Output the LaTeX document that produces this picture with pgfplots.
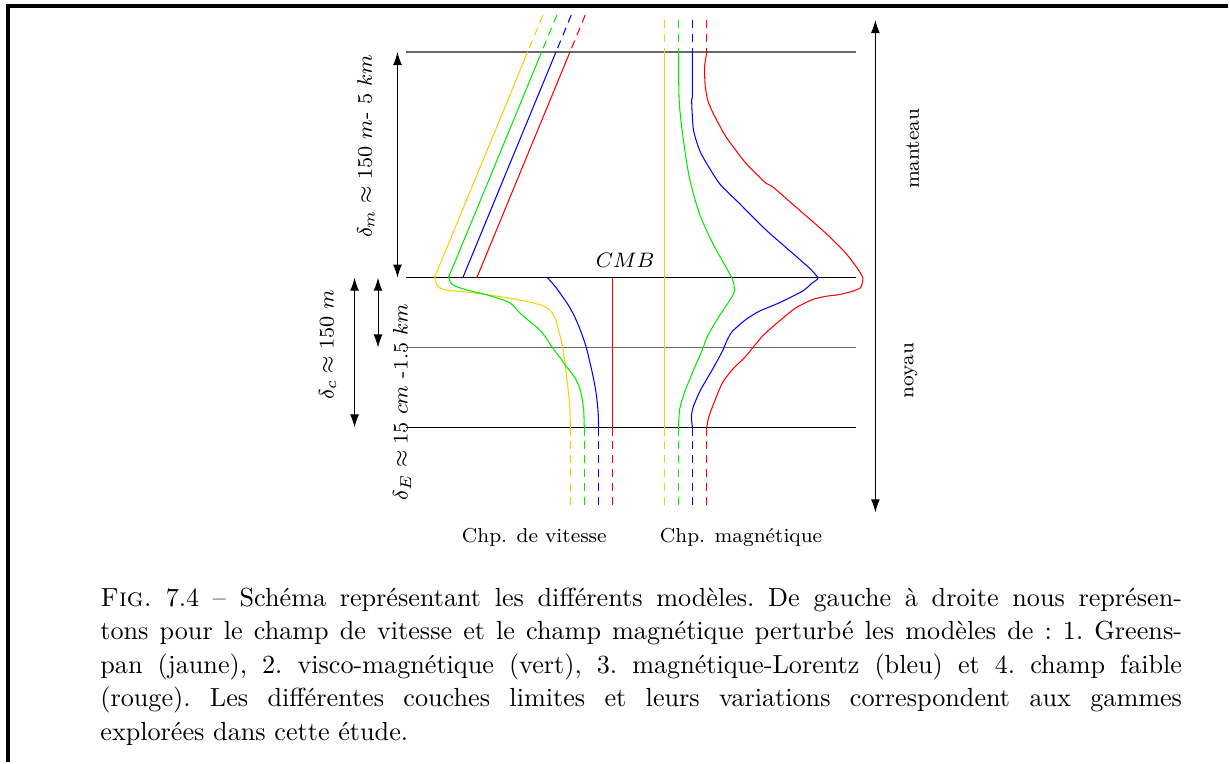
\documentclass[border=0pt]{standalone}
\usepackage{pgfplots}
\pgfplotsset{compat=1.18}
\usetikzlibrary{arrows.meta}

\definecolor{jaune}{RGB}{255,204,0}
\definecolor{vert}{RGB}{0,235,0}
\definecolor{bleu}{RGB}{0,0,255}
\definecolor{rouge}{RGB}{255,0,0}
\definecolor{grisligne}{RGB}{105,105,105}

\tikzset{
  tir/.style={dash pattern=on 3.1pt off 2.2pt},
  fl/.style={{Latex[length=5pt,width=3.4pt]}-{Latex[length=5pt,width=3.4pt]}},
  lab/.style={font=\fontsize{7.7}{9}\selectfont, inner sep=0pt},
  mlab/.style={font=\fontsize{7.9}{9.5}\selectfont, inner sep=0pt},
  legende/.style={anchor=base west, inner sep=0pt, font=\fontsize{10}{12}\selectfont\frenchspacing},
}
\newcommand{\capline}[1]{\makebox[413.4pt][s]{#1}}

\begin{document}
\begin{tikzpicture}
\begin{axis}[
  width=469.5pt, height=291.24pt, scale only axis,
  xmin=0, xmax=1230, ymin=0, ymax=763, y dir=reverse,
  hide axis, clip=false,
  every axis plot/.append style={line width=0.4pt},
]
\path (axis cs:0,0) rectangle (axis cs:1230,763);

% cadre
\addplot[black, line width=1.2pt] coordinates {(8,763) (8,6) (1230,6)};

% couches limites
\addplot[grisligne, line width=0.5pt] coordinates {(407,52) (857,52)};
\addplot[black, line width=0.5pt] coordinates {(407,278) (857,278)};
\addplot[grisligne, line width=0.5pt] coordinates {(407,348) (857,348)};
\addplot[black, line width=0.5pt] coordinates {(407,428) (857,428)};

% fleches
\addplot[black, fl] coordinates {(398,52) (398,278)};
\addplot[black, fl] coordinates {(355,278) (355,428)};
\addplot[black, fl] coordinates {(378.5,278) (378.5,348)};
\addplot[black, fl] coordinates {(876.5,20) (876.5,513)};

% ---- champ de vitesse ----
\addplot[jaune, tir] coordinates {(543.6,15) (528.3,52)};
\addplot[vert, tir] coordinates {(557.6,15) (542.3,52)};
\addplot[bleu, tir] coordinates {(572,15) (556.7,52)};
\addplot[rouge, tir] coordinates {(586,15) (570.7,52)};

\addplot[jaune, smooth, tension=0.45] coordinates {
(528.3,52) (483,162) (438.3,270) (435.6,276) (435.8,281) (437.8,286)
(442,289) (450,291) (473,293) (506.7,298) (533,303) (545,307) (552,312)
(556.5,320) (559.5,332) (562.5,343) (565.5,362) (568,383) (570,400)
(570.8,412) (571,428)};
\addplot[vert, smooth, tension=0.45] coordinates {
(542.3,52) (497,162) (452.3,270) (449.6,276) (449.8,280) (452,284)
(457,287) (470,291) (486.7,295) (503,300) (510,303) (515,307) (520,313)
(527,319) (540,330) (548,340) (553,348) (560,357) (566.7,366.7) (572,373)
(576.7,380) (580.5,389) (583,400) (584.5,412) (585,428)};
\addplot[bleu] coordinates {(556.7,52) (463.3,278.3)};
\addplot[rouge] coordinates {(570.7,52) (477.3,278.3)};
\addplot[bleu, smooth, tension=0.45] coordinates {
(548.3,278.3) (556,287) (563,296.7) (570,307) (576.7,320) (582,333)
(586.7,346.7) (590,360) (593,373) (595.8,387) (597.7,400) (599,415)
(599.3,428)};
\addplot[rouge] coordinates {(613.3,278.3) (613.3,428)};

\addplot[jaune, tir] coordinates {(571,428) (571,510)};
\addplot[vert, tir] coordinates {(585,428) (585,510)};
\addplot[bleu, tir] coordinates {(599.3,428) (599.3,510)};
\addplot[rouge, tir] coordinates {(613.3,428) (613.3,510)};

% ---- champ magnetique ----
\addplot[jaune, tir] coordinates {(665,20) (665,52)};
\addplot[vert, tir] coordinates {(679.3,20) (679.3,52)};
\addplot[bleu, tir] coordinates {(693.3,20) (693.3,52)};
\addplot[rouge, tir] coordinates {(707.7,20) (707.7,52)};

\addplot[jaune] coordinates {(665,52) (665,428)};
\addplot[vert, smooth, tension=0.45] coordinates {
(679.3,52) (680,100) (683.3,133) (690,176.7) (700,213) (713.3,243)
(730,273) (734.5,283) (735,293) (730,301.7) (720,316.7) (708.3,336.7)
(703.3,350) (693.3,373.3) (685,394) (680.5,410) (679.3,428)};
\addplot[bleu, smooth, tension=0.35] coordinates {
(693.3,52) (693.3,96) (692.5,100) (694.3,130) (701.7,153.3) (720,183.3)
(740,203.3) (766.7,230) (793.3,253.3) (810,268) (819,278.3) (813.3,283.3)
(803.3,291.7) (780,303.3) (760,311.7) (746.7,320) (733.3,331.7)
(728.3,340) (723.3,351.7) (713.3,370) (701.7,390) (694.3,406.7)
(692.3,416.7) (693.3,428)};
\addplot[rouge, smooth, tension=0.35] coordinates {
(707.7,52) (705.5,66.7) (706,85) (708.5,100) (714,113.3) (726.7,136.7) (746.7,163.3)
(766.7,183.3) (773.3,186.7) (800,210) (826.7,233.3) (846.7,253.3)
(858,268) (864,278.3) (861.7,288) (853.3,291.7) (840,295) (826.7,296.7)
(813.3,300) (796.7,308.3) (780,321.7) (763.3,336.7) (746.7,356.7)
(733.3,370) (723.3,383.3) (715,403) (709.5,418) (707.7,428)};

\addplot[jaune, tir] coordinates {(665,428) (665,510)};
\addplot[vert, tir] coordinates {(679.3,428) (679.3,510)};
\addplot[bleu, tir] coordinates {(693.3,428) (693.3,510)};
\addplot[rouge, tir] coordinates {(707.7,428) (707.7,510)};

% textes
\node[mlab, rotate=90] at (axis cs:366.5,146.5) {$\delta_m \approx 150\ m$- $5\ km$};
\node[mlab, rotate=90] at (axis cs:328,345) {$\delta_c \approx 150\ m$};
\node[mlab, rotate=90] at (axis cs:402.5,402.5) {$\delta_E \approx 15\ cm$ -1.5 $km$};
\node[mlab, anchor=base] at (axis cs:626,268) {$CMB$};
\node[lab, rotate=90] at (axis cs:914,149) {manteau};
\node[lab, rotate=90] at (axis cs:912,371) {noyau};
\node[lab, anchor=base] at (axis cs:535,543) {Chp. de vitesse};
\node[lab, anchor=base] at (axis cs:742,543) {Chp. magnétique};

% legende
\node[legende] at (axis cs:100,607)
  {\capline{\textsc{Fig.} 7.4 -- Schéma représentant les différents modèles. De gauche à droite nous représen-}};
\node[legende] at (axis cs:100,640.5)
  {\capline{tons pour le champ de vitesse et le champ magnétique perturbé les modèles de : 1. Greens-}};
\node[legende] at (axis cs:100,674)
  {\capline{pan (jaune), 2. visco-magnétique (vert), 3. magnétique-Lorentz (bleu) et 4. champ faible}};
\node[legende] at (axis cs:100,707.5)
  {\capline{(rouge). Les différentes couches limites et leurs variations correspondent aux gammes}};
\node[legende] at (axis cs:100,741)
  {explorées dans cette étude.};
\end{axis}
\end{tikzpicture}
\end{document}
